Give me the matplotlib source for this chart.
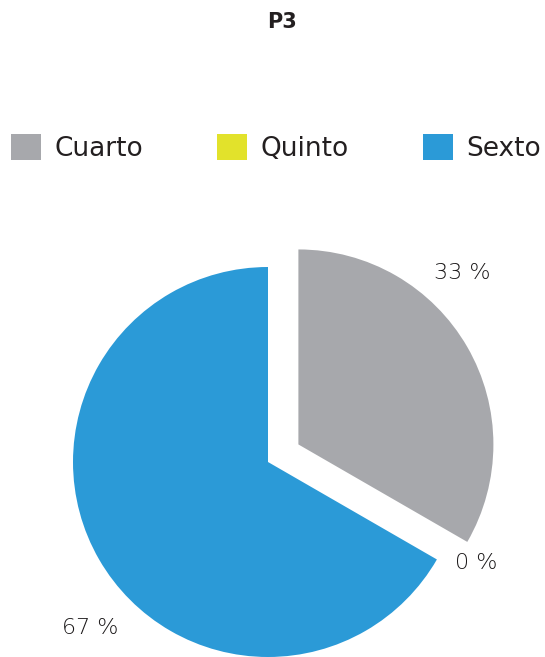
import matplotlib.pyplot as plt
from matplotlib.patches import Patch

# data
categories = ['Cuarto', 'Quinto', 'Sexto']
values = [33.33, 0.0, 66.67]
pct_labels = ['33 %', '0 %', '67 %']
colors = ['#a7a8ac', '#e2e22b', '#2b9ad7']
explode = [0.18, 0.0, 0.0]

W, H = 545, 657
R = 195.0
cx, cy = 268.0, 462.0

fig = plt.figure(figsize=(W / 100, H / 100), dpi=100)
ax = fig.add_axes([0, 0, 1, 1])

wedges, _ = ax.pie(values, colors=colors, explode=explode, startangle=90,
                   counterclock=False, radius=1.0, center=(0, 0),
                   wedgeprops=dict(linewidth=0))
# pie resets the limits, so set them afterwards
ax.set_xlim(-cx / R, (W - cx) / R)
ax.set_ylim(-(H - cy) / R, cy / R)
ax.set_aspect('equal')
ax.axis('off')

# percent labels (placed by hand like the original)
label_pos = [(0.995, 0.97), (1.07, -0.52), (-0.91, -0.85)]
for txt, (x, y) in zip(pct_labels, label_pos):
    ax.text(x, y, txt, ha='center', va='center', fontsize=16,
            color='#1a1718', family='DejaVu Sans', fontweight='light')

fig.text(282 / W, 1 - 22 / H, 'P3', ha='center', va='center', fontsize=15,
         fontweight='bold', color='#231f20')

handles = [Patch(facecolor=c, edgecolor='none') for c in colors]
fig.legend(handles, categories, loc='center', bbox_to_anchor=(276 / W, 1 - 148 / H),
           ncol=3, frameon=False, fontsize=19, handlelength=1.15, handleheight=1.15,
           handletextpad=0.5, columnspacing=2.8, labelcolor='#231f20')

fig.savefig('out.png', dpi=100)
